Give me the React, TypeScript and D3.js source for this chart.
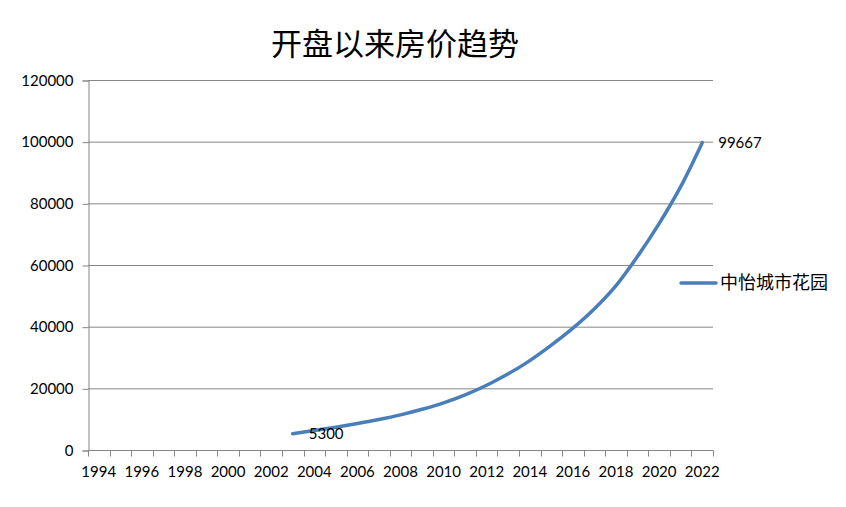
import React, { useEffect, useRef } from 'react'
import * as d3 from 'd3'

const years = d3.range(1994, 2023).map(String)
const seriesName = '中怡城市花园'
const priceYears = ['2003', '2004', '2005', '2006', '2007', '2008', '2009', '2010', '2011', '2012',
  '2013', '2014', '2015', '2016', '2017', '2018', '2019', '2020', '2021', '2022']
const prices = [5300, 6300, 7400, 8600, 9900, 11400, 13200, 15300, 17900, 21000,
  24700, 29000, 34000, 39500, 45800, 53300, 62800, 73400, 85400, 99667]
const yTicks = [0, 20000, 40000, 60000, 80000, 100000, 120000]
const labelledYears = ['2003', '2022']

const W = 846
const H = 507

const App: React.FC = () => {
  const svgRef = useRef<SVGSVGElement>(null)

  useEffect(() => {
    if (!svgRef.current) return
    const svg = d3.select(svgRef.current)
    svg.selectAll('*').remove()

    const left = 88, right = 713, top = 80, bottom = 450
    const latin = 'Lato, "Open Sans", sans-serif'
    const cjk = '"Noto Sans CJK SC", sans-serif'

    const x = d3.scaleBand().domain(years).range([left, right])
    const y = d3.scaleLinear().domain([0, 120000]).range([bottom, top])

    // Title
    svg.append('text')
      .text('开盘以来房价趋势')
      .attr('x', 395)
      .attr('y', 55)
      .attr('text-anchor', 'middle')
      .attr('font-family', cjk)
      .attr('font-size', 31)
      .attr('fill', '#000')

    // Gridlines
    svg.append('g')
      .selectAll('line')
      .data(yTicks.filter(t => t > 0))
      .enter()
      .append('line')
      .attr('x1', left)
      .attr('x2', right)
      .attr('y1', d => y(d) + 0.5)
      .attr('y2', d => y(d) + 0.5)
      .attr('stroke', '#868686')
      .attr('stroke-width', 1)

    // Y axis
    const yAxis = svg.append('g')
      .attr('transform', `translate(${left + 0.5},0.5)`)
      .call(d3.axisLeft(y).tickValues(yTicks).tickSize(6).tickPadding(9).tickFormat(d => String(d)))
    yAxis.select('.domain').attr('stroke', '#868686')
    yAxis.selectAll('.tick line').attr('stroke', '#868686')
    yAxis.selectAll('.tick text')
      .attr('font-family', latin)
      .attr('font-size', 15)
      .attr('fill', '#000')

    // X axis: ticks at category boundaries, labels every other year
    const xg = svg.append('g').attr('transform', `translate(0,${bottom + 0.5})`)
    xg.append('line')
      .attr('x1', left).attr('x2', right)
      .attr('stroke', '#868686')
    xg.selectAll('line.tick')
      .data([...years, 'end'])
      .enter()
      .append('line')
      .attr('class', 'tick')
      .attr('x1', (d, i) => Math.round(left + i * x.bandwidth()) + 0.5)
      .attr('x2', (d, i) => Math.round(left + i * x.bandwidth()) + 0.5)
      .attr('y1', 0)
      .attr('y2', 6)
      .attr('stroke', '#868686')
    xg.selectAll('text')
      .data(years.filter((d, i) => i % 2 === 0))
      .enter()
      .append('text')
      .text(d => d)
      .attr('x', d => (x(d) as number) + x.bandwidth() / 2)
      .attr('y', 26)
      .attr('text-anchor', 'middle')
      .attr('font-family', latin)
      .attr('font-size', 15)
      .attr('fill', '#000')

    // Series line
    const pts = priceYears.map((yr, i) => [(x(yr) as number) + x.bandwidth() / 2, y(prices[i])] as [number, number])
    const line = d3.line().curve(d3.curveCatmullRom.alpha(0.5))
    svg.append('path')
      .attr('d', line(pts))
      .attr('fill', 'none')
      .attr('stroke', '#4a7ebb')
      .attr('stroke-width', 3.5)
      .attr('stroke-linecap', 'round')

    // Data labels
    svg.selectAll('text.dl')
      .data(labelledYears)
      .enter()
      .append('text')
      .attr('class', 'dl')
      .text(d => String(prices[priceYears.indexOf(d)]))
      .attr('x', d => (x(d) as number) + x.bandwidth() / 2 + 16)
      .attr('y', d => y(prices[priceYears.indexOf(d)]))
      .attr('dy', '0.35em')
      .attr('font-family', latin)
      .attr('font-size', 15)
      .attr('fill', '#000')

    // Legend
    svg.append('line')
      .attr('x1', 681).attr('x2', 716)
      .attr('y1', 283).attr('y2', 283)
      .attr('stroke', '#4a7ebb')
      .attr('stroke-width', 3.5)
      .attr('stroke-linecap', 'round')
    svg.append('text')
      .text(seriesName)
      .attr('x', 720)
      .attr('y', 283)
      .attr('dy', '0.36em')
      .attr('font-family', cjk)
      .attr('font-size', 18)
      .attr('fill', '#000')
  }, [])

  return (
    <div style={{ position: 'fixed', left: 0, top: 0, width: W, height: H, background: '#fff' }}>
      <svg ref={svgRef} width={W} height={H} />
    </div>
  )
}

export default App
